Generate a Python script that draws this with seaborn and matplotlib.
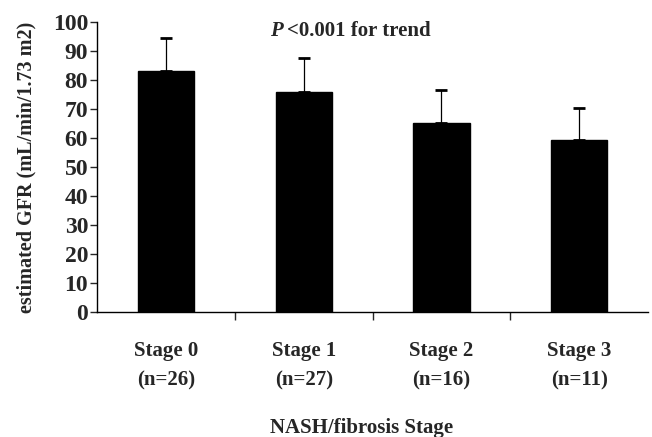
import numpy as np
import pandas as pd
import matplotlib
matplotlib.use("Agg")
import matplotlib.pyplot as plt
import seaborn as sns

stages = ["Stage 0", "Stage 1", "Stage 2", "Stage 3"]
n_counts = [26, 27, 16, 11]
gfr_mean = [83.0, 75.8, 65.0, 59.2]
gfr_sd = [11.6, 11.8, 11.6, 11.2]

sns.set_style("white")
plt.rcParams['font.family'] = ['Liberation Serif', 'DejaVu Serif']
plt.rcParams['font.weight'] = 'bold'

labels = [f"{s}\n(n={n})" for s, n in zip(stages, n_counts)]
df = pd.DataFrame({"stage": labels, "gfr": gfr_mean})

fig = plt.figure(figsize=(6.52, 4.37), dpi=100)
ax = fig.add_axes([0.149, 0.286, 0.845, 0.664])

sns.barplot(data=df, x="stage", y="gfr", color="black", width=0.41,
            saturation=1, errorbar=None, ax=ax, edgecolor="black")
ax.errorbar(np.arange(len(gfr_mean)), gfr_mean,
            yerr=[np.zeros(len(gfr_sd)), gfr_sd], fmt="none",
            ecolor="black", elinewidth=0.9, capsize=4, capthick=2)

ax.set_xlim(-0.5, 3.5)
ax.set_ylim(0, 100)
ax.set_yticks(range(0, 101, 10))
ax.tick_params(axis="y", direction="out", length=5, width=1, left=True,
               labelsize=17, pad=1.5)
ax.tick_params(axis="x", which="major", length=0, labelsize=15, pad=21)
ax.set_xticks([0.5, 1.5, 2.5], minor=True)
ax.tick_params(axis="x", which="minor", direction="out", length=6, width=1, bottom=True)
for lbl in ax.get_xticklabels():
    lbl.set_linespacing(1.6)
    lbl.set_fontweight("bold")
for lbl in ax.get_yticklabels():
    lbl.set_fontweight("bold")

for s in ["top", "right"]:
    ax.spines[s].set_visible(False)
for s in ["left", "bottom"]:
    ax.spines[s].set_color("black")
    ax.spines[s].set_linewidth(1)

ax.set_ylabel("estimated GFR (mL/min/1.73 m2)", fontsize=14.5, fontweight="bold", labelpad=12)
ax.set_xlabel("")
fig.text(362 / 652, 1 - 428 / 437, "NASH/fibrosis Stage", fontsize=15,
         fontweight="bold", ha="center", va="center")

ax.text(0.313, 0.97, "P", transform=ax.transAxes, fontsize=15, fontweight="bold",
        fontstyle="italic", ha="left", va="center")
ax.text(0.345, 0.97, "<0.001 for trend", transform=ax.transAxes, fontsize=15,
        fontweight="bold", ha="left", va="center")

fig.savefig("out.png", dpi=100)
